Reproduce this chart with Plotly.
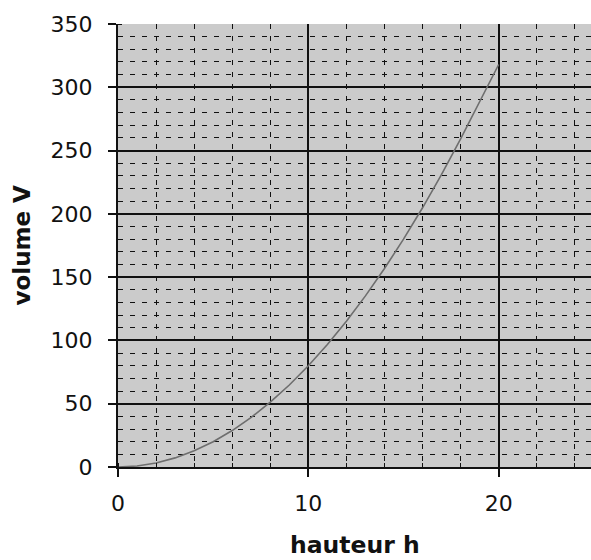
import plotly.graph_objects as go

hauteur = [0, 1, 2, 3, 4, 5, 6, 7, 8, 9, 10, 11, 12, 13, 14, 15, 16, 17, 18, 19, 20]
volume = [0, 0.8, 3.2, 7.2, 12.8, 20, 28.8, 39.2, 51.2, 64.8, 80, 96.8, 115.2,
          135.2, 156.8, 180, 204.8, 231.2, 259.2, 288.8, 318]

x_ticks = [0, 10, 20]
y_ticks = [0, 50, 100, 150, 200, 250, 300, 350]

fig = go.Figure()
fig.add_trace(go.Scatter(x=hauteur, y=volume, mode="lines",
                         line=dict(color="#6e6e6e", width=1.6),
                         showlegend=False, hoverinfo="skip"))

font = "DejaVu Sans, sans-serif"

fig.update_layout(
    width=591, height=560,
    margin=dict(l=118, r=0, t=24, b=93),
    paper_bgcolor="white",
    plot_bgcolor="#cbcbcb",
    font=dict(family=font, size=22, color="#111111"),
    xaxis=dict(
        range=[0, 24.85], tickvals=x_ticks, ticktext=[str(v) for v in x_ticks],
        showgrid=True, gridcolor="#111111", gridwidth=1.5,
        showline=True, linecolor="#111111", linewidth=2,
        ticks="outside", ticklen=8, tickwidth=1.5, tickcolor="#111111",
        zeroline=False,
        minor=dict(dtick=2, showgrid=True, gridcolor="#111111", gridwidth=1.4,
                   griddash="5px,7px", ticks="inside", ticklen=4,
                   tickcolor="#111111", tickwidth=1.2),
        tickfont=dict(size=22),
        ticklabelstandoff=8,
    ),
    yaxis=dict(
        range=[0, 350], tickvals=y_ticks, ticktext=[str(v) for v in y_ticks],
        showgrid=True, gridcolor="#111111", gridwidth=1.5,
        showline=True, linecolor="#111111", linewidth=2,
        ticks="outside", ticklen=8, tickwidth=1.5, tickcolor="#111111",
        zeroline=False,
        minor=dict(dtick=10, showgrid=True, gridcolor="#111111", gridwidth=1.4,
                   griddash="5px,7px", ticks="inside", ticklen=4,
                   tickcolor="#111111", tickwidth=1.2),
        tickfont=dict(size=22),
        ticklabelstandoff=11,
    ),
    annotations=[
        dict(text="<b>hauteur h</b>", xref="paper", yref="paper", x=0.5, y=0,
             yshift=-78, xanchor="center", yanchor="middle", showarrow=False,
             font=dict(size=23.5, family=font, color="#111111")),
        dict(text="<b>volume V</b>", xref="paper", yref="paper", x=0, y=0.5,
             xshift=-97, xanchor="center", yanchor="middle", showarrow=False,
             textangle=-90, font=dict(size=23, family=font, color="#111111")),
    ],
)

fig.write_html("out.html", config={"displayModeBar": False},
               post_script="document.body.style.margin='0';")
